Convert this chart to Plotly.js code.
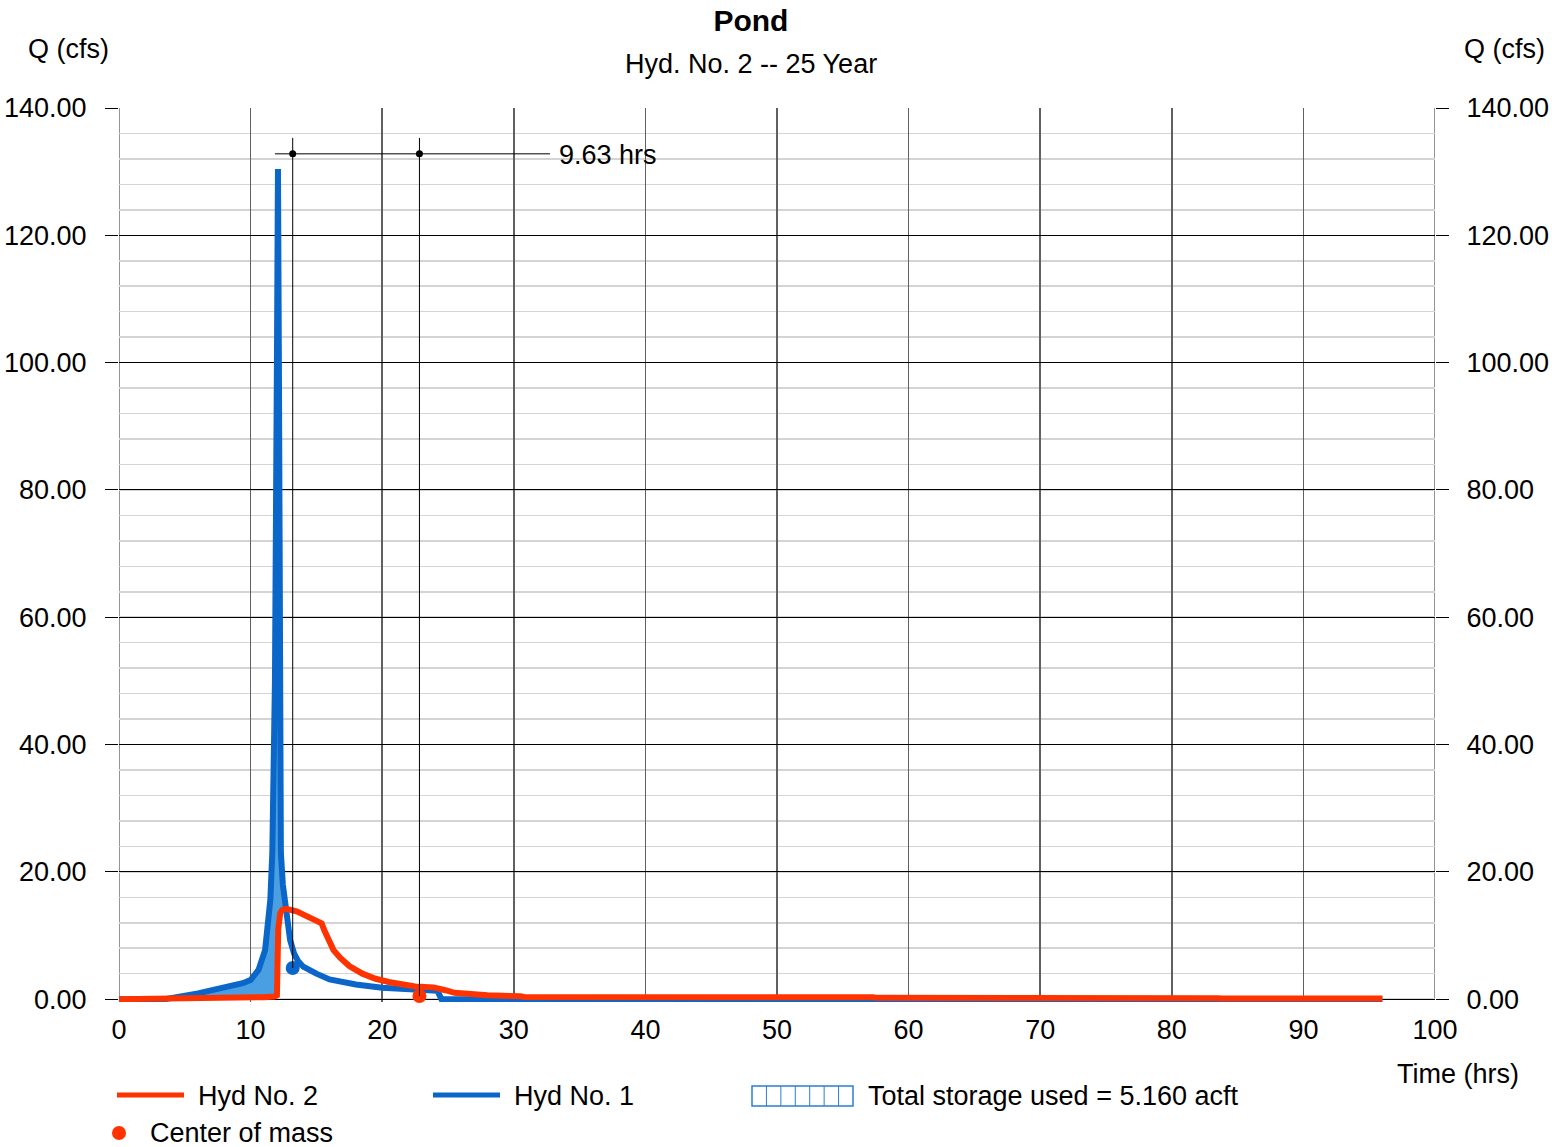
<!DOCTYPE html>
<html>
<head>
<meta charset="utf-8">
<script src="https://cdn.plot.ly/plotly-3.0.1.min.js"></script>
<style>html,body{margin:0;padding:0;background:#fff;}#chart{width:1552px;height:1147px;}</style>
</head>
<body>
<div id="chart"></div>
<script>
// ---- Data ----
// Hyd No. 1 (inflow)
var inflowT = [0, 3.5, 6, 8.2, 9.4, 10.0, 10.6, 11.1, 11.5, 11.65, 11.85, 12.0, 12.08, 12.15, 12.3, 12.45, 12.6, 12.8, 13.0, 13.3, 13.6, 14.0, 14.5, 15.0, 16.0, 17.0, 18.0, 20.0, 22.0, 23.9, 24.2, 24.5, 96];
var inflowQ = [0, 0, 0.9, 1.9, 2.5, 3.0, 4.6, 7.7, 15.6, 23.0, 50.0, 100.0, 130.4, 100.0, 23.0, 18.0, 15.0, 11.5, 9.3, 7.2, 6.0, 5.1, 4.5, 4.0, 3.1, 2.7, 2.3, 1.8, 1.6, 1.4, 1.3, 0.0, 0.0];
// Hyd No. 2 (outflow)
var outflowT = [0, 9, 11, 11.8, 12.0, 12.1, 12.25, 12.4, 12.7, 13.5, 14.5, 15.4, 15.6, 15.9, 16.3, 16.8, 17.5, 18.5, 19.5, 20.5, 21.5, 22.5, 23.9, 24.3, 24.8, 25.5, 26.5, 28.0, 30.5, 30.8, 57.3, 57.6, 83.5, 83.8, 96];
var outflowQ = [0, 0.1, 0.3, 0.4, 0.6, 11.0, 13.5, 14.0, 14.2, 13.8, 12.9, 11.9, 10.8, 9.2, 7.7, 6.5, 5.2, 4.0, 3.2, 2.7, 2.3, 2.0, 1.85, 1.7, 1.4, 1.0, 0.8, 0.6, 0.45, 0.35, 0.3, 0.2, 0.15, 0.1, 0.1];
// Centers of mass [inflow, outflow]
var comT = [13.20, 22.83];
var comQ = [4.9, 0.5];
var lagLabel = "9.63 hrs";
var storageEnd = 12.7; // hrs, where storage (inflow > outflow) ends
var storageLabel = "Total storage used = 5.160 acft";
var xTicks = [0, 10, 20, 30, 40, 50, 60, 70, 80, 90, 100];
var yTicks = [0, 20, 40, 60, 80, 100, 120, 140];

// ---- Geometry helpers (pixel -> paper) ----
var L = 119, T = 108, W = 1316, H = 894;
function px(x) { return (x - L) / W; }
function py(y) { return (T + H - y) / H; }

var RED = '#ff3300', BLUE = '#0a66c8', FILL = '#4a9fe3';
var FONT = 'Liberation Sans, Arial, sans-serif';
var FS = 27;

// storage polygon: inflow up to storageEnd then outflow back
function interp(ts, qs, t) {
  for (var i = 1; i < ts.length; i++) {
    if (t <= ts[i]) { var f = (t - ts[i-1]) / (ts[i] - ts[i-1]); return qs[i-1] + f * (qs[i] - qs[i-1]); }
  }
  return qs[qs.length - 1];
}
var polyX = [], polyY = [];
for (var i = 0; i < inflowT.length; i++) if (inflowT[i] < storageEnd) { polyX.push(inflowT[i]); polyY.push(inflowQ[i]); }
polyX.push(storageEnd); polyY.push(interp(inflowT, inflowQ, storageEnd));
polyX.push(storageEnd); polyY.push(interp(outflowT, outflowQ, storageEnd));
for (var j = outflowT.length - 1; j >= 0; j--) if (outflowT[j] < storageEnd) { polyX.push(outflowT[j]); polyY.push(outflowQ[j]); }

var lagY = 132.8, lagTop = 135.3, lagX0 = 11.85, lagX1 = 32.75;

var traces = [
  {x: polyX, y: polyY, mode: 'none', fill: 'toself', fillcolor: FILL, hoverinfo: 'skip', showlegend: false},
  {x: inflowT, y: inflowQ, mode: 'lines', line: {color: BLUE, width: 6}, name: 'Hyd No. 1', showlegend: false},
  {x: outflowT, y: outflowQ, mode: 'lines', line: {color: RED, width: 6}, name: 'Hyd No. 2', showlegend: false},
  {x: [comT[0]], y: [comQ[0]], mode: 'markers', marker: {color: BLUE, size: 14}, showlegend: false, cliponaxis: false},
  {x: [comT[1]], y: [comQ[1]], mode: 'markers', marker: {color: RED, size: 14}, showlegend: false, cliponaxis: false},
  {x: comT, y: [lagY, lagY], mode: 'markers', marker: {color: '#000', size: 7}, showlegend: false},
  {x: [0], y: [0], yaxis: 'y2', mode: 'markers', marker: {opacity: 0}, hoverinfo: 'skip', showlegend: false}
];

var shapes = [
  {type: 'line', xref: 'x', yref: 'y', x0: 0, x1: 0, y0: 0, y1: 140, line: {color: '#707070', width: 1.5}, layer: 'below'},
  {type: 'line', xref: 'x', yref: 'y', x0: 100, x1: 100, y0: 0, y1: 140, line: {color: '#707070', width: 1.5}, layer: 'below'},
  {type: 'line', xref: 'x', yref: 'y', x0: lagX0, x1: lagX1, y0: lagY, y1: lagY, line: {color: '#000', width: 1}},
  {type: 'line', xref: 'x', yref: 'y', x0: comT[0], x1: comT[0], y0: lagTop, y1: comQ[0], line: {color: '#000', width: 1}},
  {type: 'line', xref: 'x', yref: 'y', x0: comT[1], x1: comT[1], y0: lagTop, y1: comQ[1], line: {color: '#000', width: 1}},
  // legend
  {type: 'line', xref: 'paper', yref: 'paper', x0: px(117), x1: px(184), y0: py(1095), y1: py(1095), line: {color: RED, width: 5}},
  {type: 'line', xref: 'paper', yref: 'paper', x0: px(433), x1: px(500), y0: py(1095), y1: py(1095), line: {color: BLUE, width: 5}},
  {type: 'rect', xref: 'paper', yref: 'paper', x0: px(752), x1: px(853), y0: py(1106), y1: py(1086), line: {color: '#2a7fd4', width: 1.5}, fillcolor: 'rgba(0,0,0,0)'},
  {type: 'circle', xref: 'paper', yref: 'paper', x0: px(112), x1: px(126), y0: py(1140), y1: py(1126), line: {width: 0}, fillcolor: RED}
];
for (var k = 1; k < 7; k++) {
  var xx = 752 + k * 101 / 7;
  shapes.push({type: 'line', xref: 'paper', yref: 'paper', x0: px(xx), x1: px(xx), y0: py(1106), y1: py(1086), line: {color: '#2a7fd4', width: 1}});
}

function ann(text, x, y, xanchor, size) {
  return {text: text, xref: 'paper', yref: 'paper', x: px(x), y: py(y), xanchor: xanchor, yanchor: 'middle', showarrow: false, font: {family: FONT, size: size || FS, color: '#000'}};
}
var annotations = [
  ann('Hyd. No. 2 -- 25 Year', 751, 64, 'center'),
  ann('Q (cfs)', 26, 49, 'left'),
  ann('Q (cfs)', 1547, 49, 'right'),
  ann('Time (hrs)', 1521, 1074, 'right'),
  ann(lagLabel, 557, 155, 'left'),
  ann('Hyd No. 2', 196, 1096, 'left'),
  ann('Hyd No. 1', 512, 1096, 'left'),
  ann(storageLabel, 866, 1096, 'left'),
  ann('Center of mass', 148, 1133, 'left')
];

var yax = {
  range: [-0.45, 140], tickvals: yTicks, tickformat: '.2f',
  showgrid: true, gridcolor: '#000', gridwidth: 1, zeroline: false,
  ticks: 'outside', ticklen: 13, tickcolor: '#000', tickwidth: 1,
  tickfont: {family: FONT, size: FS, color: '#000'}, ticklabelstandoff: 13,
  minor: {dtick: 4, showgrid: true, gridcolor: '#d4d4d4', gridwidth: 1.5, ticks: ''},
  showline: false, fixedrange: true
};
var yax2 = {
  overlaying: 'y', side: 'right', matches: 'y', range: [-0.45, 140], tickvals: yTicks, tickformat: '.2f',
  showgrid: false, zeroline: false, ticks: 'outside', ticklen: 13, tickcolor: '#000', tickwidth: 1,
  tickfont: {family: FONT, size: FS, color: '#000'}, ticklabelstandoff: 12, showline: false
};

var layout = {
  width: 1552, height: 1147,
  margin: {l: L, r: 1552 - L - W, t: T, b: 1147 - T - H, pad: 0},
  paper_bgcolor: '#fff', plot_bgcolor: '#fff',
  showlegend: false,
  title: {text: '<b>Pond</b>', font: {family: FONT, size: 30, color: '#000'}, x: 0.4802, xanchor: 'center', xref: 'paper', yref: 'container', y: 1 - 20 / 1147, yanchor: 'middle'},
  xaxis: {
    range: [0, 100], tickvals: xTicks, showgrid: true, gridcolor: '#606060', gridwidth: 1.5,
    zeroline: false, ticks: '', tickfont: {family: FONT, size: FS, color: '#000'}, ticklabelstandoff: 9,
    showline: false, fixedrange: true
  },
  yaxis: yax, yaxis2: yax2,
  shapes: shapes, annotations: annotations
};

Plotly.newPlot('chart', traces, layout, {staticPlot: true});
</script>
</body>
</html>
